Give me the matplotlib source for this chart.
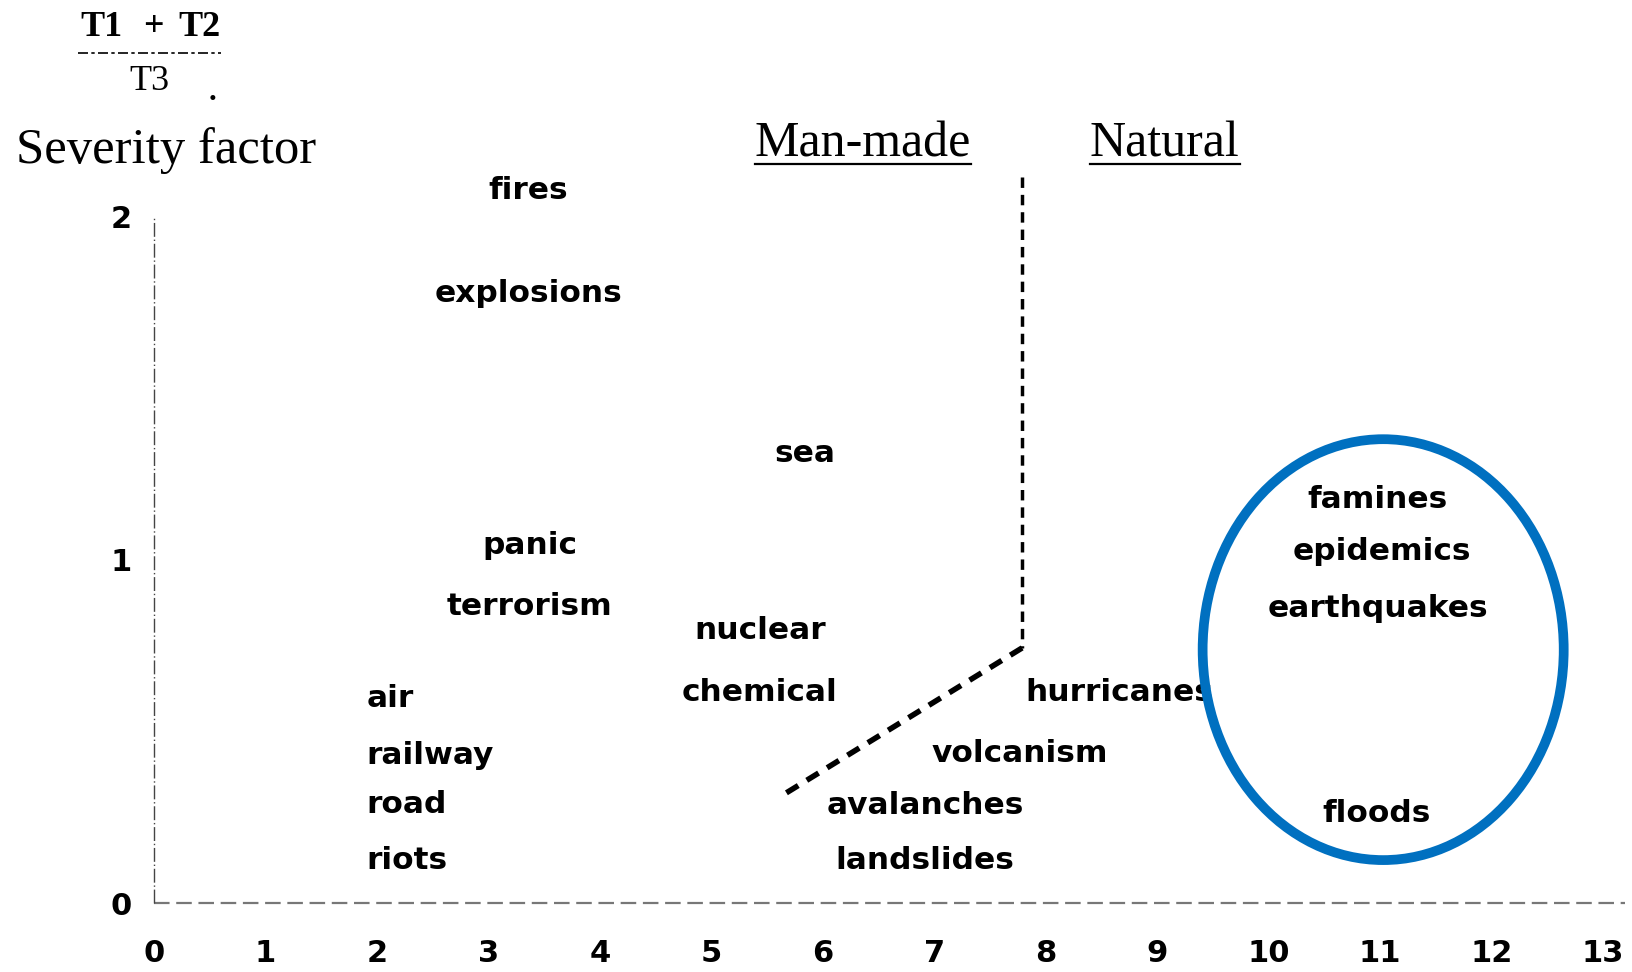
import matplotlib
matplotlib.use("Agg")
import matplotlib.pyplot as plt
from matplotlib.patches import Ellipse
from matplotlib.lines import Line2D

# hazard labels placed by (time factor, severity factor)
man_made = ["fires", "explosions", "sea", "panic", "terrorism",
            "nuclear", "chemical"]
man_made_x = [3.36, 3.36, 5.84, 3.37, 3.37, 5.44, 5.43]
man_made_y = [2.075, 1.775, 1.31, 1.04, 0.865, 0.795, 0.613]

transport = ["air", "railway", "road", "riots"]
transport_x = [1.905, 1.905, 1.905, 1.905]
transport_y = [0.595, 0.431, 0.286, 0.125]

natural = ["hurricanes", "volcanism", "avalanches", "landslides",
           "famines", "epidemics", "earthquakes", "floods"]
natural_x = [7.82, 7.77, 6.92, 6.92, 10.98, 11.02, 10.98, 10.97]
natural_y = [0.613, 0.435, 0.285, 0.125, 1.175, 1.025, 0.859, 0.262]
natural_ha = ["left", "center", "center", "center",
              "center", "center", "center", "center"]

# boundary between man-made and natural
border_x = [7.79, 7.79, 5.60]
border_y = [2.115, 0.743, 0.306]

x_ticks = list(range(0, 14))
y_ticks = [0, 1, 2]

W, H = 1632, 972
fig = plt.figure(figsize=(W / 100, H / 100), dpi=100)
ax = fig.add_axes([154 / W, 69 / H, (1625 - 154) / W, 789.6 / H])
ax.set_xlim(0, 13.2)
ax.set_ylim(0, 2.3)
for s in ax.spines.values():
    s.set_visible(False)

ax.set_xticks(x_ticks)
ax.set_yticks(y_ticks)
ax.tick_params(length=0)
ax.tick_params(axis="x", pad=26)
ax.tick_params(axis="y", pad=16)
for lab in ax.get_xticklabels() + ax.get_yticklabels():
    lab.set_fontsize(22)
    lab.set_fontweight("bold")
    lab.set_family("DejaVu Sans")

# axes drawn as broken scan-like lines
ax.plot([0, 13.2], [0, 0], color="#777777", lw=1.6,
        linestyle=(0, (7, 3)), clip_on=False)
ax.plot([0, 0], [0, 2], color="#444444", lw=1.0,
        linestyle=(0, (10, 2, 1, 2)), clip_on=False)

ax.plot(border_x[:2], border_y[:2], color="black", lw=2.5,
        linestyle=(0, (3, 2)))
ax.plot(border_x[1:], border_y[1:], color="black", lw=4,
        linestyle=(0, (2.5, 1.8)))

text_kw = dict(fontsize=22.5, fontweight="bold", family="DejaVu Sans",
               va="center")
for name, x, y in zip(man_made, man_made_x, man_made_y):
    ax.text(x, y, name, ha="center", **text_kw)
for name, x, y in zip(transport, transport_x, transport_y):
    ax.text(x, y, name, ha="left", **text_kw)
for name, x, y, ha in zip(natural, natural_x, natural_y, natural_ha):
    ax.text(x, y, name, ha=ha, **text_kw)

ax.add_patch(Ellipse((11.03, 0.738), 3.24, 1.226, fill=False,
                     edgecolor="#0070C0", lw=7, zorder=5))

serif = "Liberation Serif"
headers = []
headers.append(ax.text(6.36, 2.21, "Man-made", ha="center", va="center",
                       fontsize=36, family=serif))
headers.append(ax.text(9.07, 2.21, "Natural", ha="center", va="center",
                       fontsize=36, family=serif))

fig.text(15.6 / W, 1 - 151 / H, "Severity factor", ha="left", va="center",
         fontsize=36.5, family=serif)

# severity formula (T1 + T2) / T3
fig.text(80 / W, 1 - 27 / H, "T1", ha="left", va="center",
         fontsize=26, family=serif, fontweight="bold")
fig.text(153 / W, 1 - 27 / H, "+", ha="center", va="center",
         fontsize=26, family=serif, fontweight="bold")
fig.text(178 / W, 1 - 27 / H, "T2", ha="left", va="center",
         fontsize=26, family=serif, fontweight="bold")
fig.text(129 / W, 1 - 81 / H, "T3", ha="left", va="center",
         fontsize=26, family=serif)
fig.text(213 / W, 1 - 92 / H, ".", ha="center", va="center",
         fontsize=22, family=serif, fontweight="bold")
fig.add_artist(Line2D([78 / W, 221 / W], [1 - 53 / H, 1 - 53 / H],
                      color="black", lw=1.2, linestyle=(0, (6, 2, 2, 2))))

# underline the two headers
fig.canvas.draw()
renderer = fig.canvas.get_renderer()
for t in headers:
    bb = t.get_window_extent(renderer)
    yline = (bb.y0 + 4) / H
    fig.add_artist(Line2D([bb.x0 / W, bb.x1 / W], [yline, yline],
                          color="black", lw=1.6))

fig.savefig("out.png", dpi=100)
